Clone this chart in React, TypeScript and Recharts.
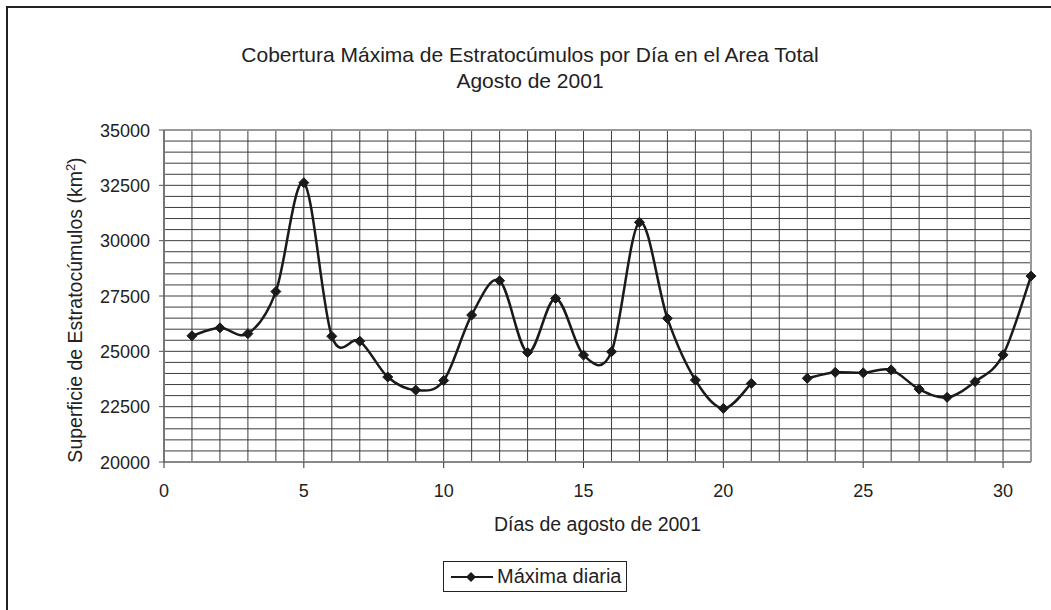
import React from "react";
import { LineChart, Line, XAxis, YAxis, CartesianGrid, ReferenceLine } from "recharts";

const days: number[] = [1,2,3,4,5,6,7,8,9,10,11,12,13,14,15,16,17,18,19,20,21,22,23,24,25,26,27,28,29,30,31];
const maxima: (number | null)[] = [
  25700, 26060, 25800, 27700, 32620, 25680, 25460, 23840, 23250, 23680,
  26640, 28190, 24950, 27390, 24830, 24980, 30830, 26490, 23700, 22420,
  23550, null, 23780, 24050, 24030, 24160, 23290, 22920, 23630, 24840, 28400,
];
const yTicks: number[] = Array.from({ length: 31 }, (_, i) => 20000 + i * 500);
const xTicks: number[] = Array.from({ length: 32 }, (_, i) => i);
const yLabelTicks: number[] = [20000, 22500, 25000, 27500, 30000, 32500, 35000];
const xLabelTicks: number[] = [0, 5, 10, 15, 20, 25, 30];

const titleLine1 = "Cobertura Máxima de Estratocúmulos por Día en el Area Total";
const titleLine2 = "Agosto de 2001";
const xTitle = "Días de agosto de 2001";
const seriesName = "Máxima diaria";

const data = days.map((d, i) => ({ day: d, value: maxima[i] }));

const FONT = "'Liberation Sans', Arial, sans-serif";
const TEXT = "#222";

// Excel-like smoothed line (Catmull-Rom style bezier)
function excelCurve(context: any) {
  let pts: [number, number][] = [];
  return {
    areaStart() {},
    areaEnd() {},
    lineStart() {
      pts = [];
    },
    lineEnd() {
      const n = pts.length;
      if (n === 0) return;
      context.moveTo(pts[0][0], pts[0][1]);
      if (n === 1) {
        context.lineTo(pts[0][0], pts[0][1]);
        return;
      }
      for (let i = 0; i < n - 1; i++) {
        const p0 = pts[Math.max(0, i - 1)];
        const p1 = pts[i];
        const p2 = pts[i + 1];
        const p3 = pts[Math.min(n - 1, i + 2)];
        const c1x = p1[0] + (p2[0] - p0[0]) / 6;
        const c1y = p1[1] + (p2[1] - p0[1]) / 6;
        const c2x = p2[0] - (p3[0] - p1[0]) / 6;
        const c2y = p2[1] - (p3[1] - p1[1]) / 6;
        context.bezierCurveTo(c1x, c1y, c2x, c2y, p2[0], p2[1]);
      }
    },
    point(x: number, y: number) {
      pts.push([+x, +y]);
    },
  };
}

const Diamond = (props: any) => {
  const { cx, cy, value, index } = props;
  if (value == null || cy == null || cx == null || isNaN(cy)) return <g key={`d${index}`} />;
  const r = 5;
  return (
    <path
      key={`d${index}`}
      d={`M${cx},${cy - r} L${cx + r},${cy} L${cx},${cy + r} L${cx - r},${cy} Z`}
      fill="#1a1a1a"
      stroke="#1a1a1a"
      strokeWidth={1}
    />
  );
};

const YTick = (props: any) => {
  const { x, y, payload } = props;
  const axisX = x + 8;
  const v = payload.value;
  if (!yLabelTicks.includes(v)) return <g />;
  return (
    <g>
      <line x1={axisX - 5} x2={axisX} y1={y} y2={y} stroke="#555" strokeWidth={1} />
      <text x={axisX - 14} y={y + 6.5} textAnchor="end" fontFamily={FONT} fontSize={18} fill={TEXT}>
        {v}
      </text>
    </g>
  );
};

const XTick = (props: any) => {
  const { x, y, payload } = props;
  const axisY = y - 8;
  const v = payload.value;
  if (!xLabelTicks.includes(v)) return <g />;
  return (
    <g>
      <line x1={x} x2={x} y1={axisY} y2={axisY + 6} stroke="#333" strokeWidth={1} />
      <text x={x} y={axisY + 35} textAnchor="middle" fontFamily={FONT} fontSize={18} fill={TEXT}>
        {v}
      </text>
    </g>
  );
};

const YLabel = (props: any) => {
  const cy = 310;
  const cx = 82;
  return (
    <text
      x={cx}
      y={cy}
      transform={`rotate(-90 ${cx} ${cy})`}
      textAnchor="middle"
      fontFamily={FONT}
      fontSize={19.5}
      fill={TEXT}
    >
      Superficie de Estratocúmulos (km
      <tspan baselineShift="super" fontSize={13}>2</tspan>
      <tspan>)</tspan>
    </text>
  );
};

const XLabel = (props: any) => {
  const vb = props.viewBox || {};
  const cx = vb.x + vb.width / 2;
  return (
    <text x={cx} y={531} textAnchor="middle" fontFamily={FONT} fontSize={19.5} fill={TEXT}>
      {xTitle}
    </text>
  );
};

export default function App() {
  return (
    <div style={{ position: "absolute", left: 0, top: 0, width: 1051, height: 610, overflow: "hidden", background: "#fff" }}>
      <div
        style={{
          position: "absolute",
          left: 6,
          top: 6,
          width: 1100,
          height: 700,
          borderLeft: "2px solid #222",
          borderTop: "2px solid #222",
        }}
      />
      <div
        style={{
          position: "absolute",
          left: 0,
          width: 1060,
          top: 42,
          textAlign: "center",
          fontFamily: FONT,
          fontSize: 21,
          color: TEXT,
          lineHeight: "26px",
        }}
      >
        <div>{titleLine1}</div>
        <div>{titleLine2}</div>
      </div>
      <div style={{ position: "absolute", left: 0, top: 0 }}>
        <LineChart width={1051} height={610} data={data} margin={{ top: 130, right: 20, bottom: 118, left: 0 }}>
          <CartesianGrid stroke="#3c3c3c" strokeWidth={1} />
          <XAxis
            dataKey="day"
            type="number"
            domain={[0, 31]}
            ticks={xTicks}
            interval={0}
            tickSize={6}
            tickMargin={2}
            tickLine={false}
            axisLine={{ stroke: "#888", strokeWidth: 2 }}
            tick={<XTick />}
            height={30}
            label={<XLabel />}
          />
          <YAxis
            type="number"
            domain={[20000, 35000]}
            ticks={yTicks}
            interval={0}
            tickSize={6}
            tickMargin={2}
            tickLine={false}
            axisLine={{ stroke: "#777", strokeWidth: 2 }}
            tick={<YTick />}
            width={164}
            label={<YLabel />}
          />
          <ReferenceLine y={35000} stroke="#999" strokeWidth={2} />
          <ReferenceLine x={31} stroke="#999" strokeWidth={2} />
          <Line
            dataKey="value"
            type={excelCurve as any}
            stroke="#1a1a1a"
            strokeWidth={2.5}
            dot={<Diamond />}
            activeDot={false}
            connectNulls={false}
            isAnimationActive={false}
          />
        </LineChart>
      </div>
      <div
        style={{
          position: "absolute",
          left: 443,
          top: 561,
          width: 184,
          height: 31,
          border: "1px solid #222",
          boxSizing: "border-box",
          display: "flex",
          alignItems: "center",
          fontFamily: FONT,
          fontSize: 20,
          color: TEXT,
        }}
      >
        <svg width={46} height={20} style={{ marginLeft: 5 }}>
          <line x1={2} x2={44} y1={10} y2={10} stroke="#1a1a1a" strokeWidth={2} />
          <path d="M22,5 L27,10 L22,15 L17,10 Z" fill="#1a1a1a" />
        </svg>
        <span style={{ marginLeft: 2 }}>{seriesName}</span>
      </div>
    </div>
  );
}
